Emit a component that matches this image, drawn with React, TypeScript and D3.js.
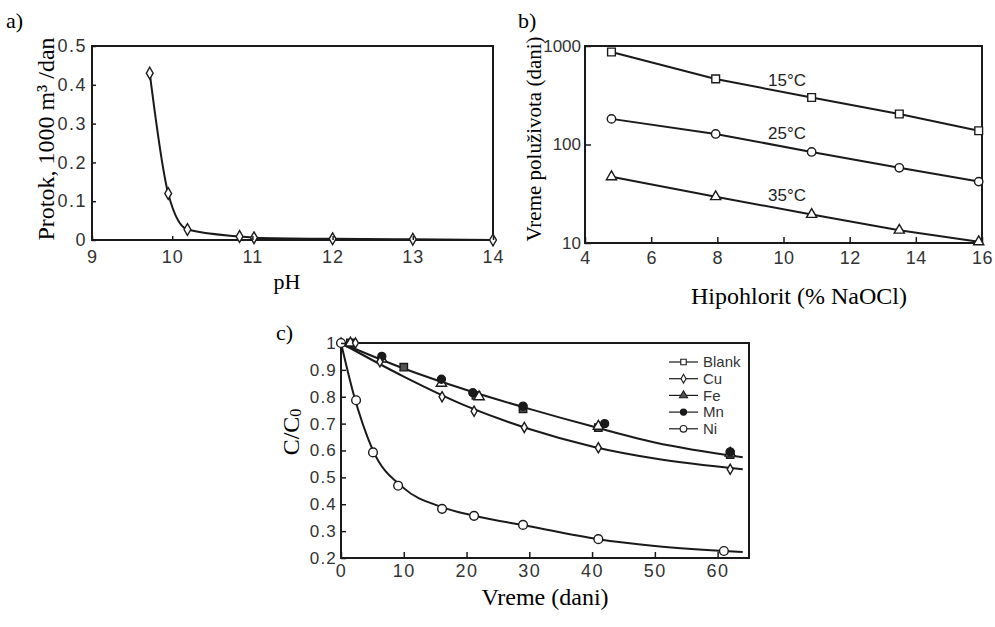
import React, { useEffect, useRef } from 'react';
import * as d3 from 'd3';

// panel a: flow vs pH
const phValues = [9.72, 9.95, 10.19, 10.84, 11.02, 12, 13, 14];
const flowValues = [0.43, 0.12, 0.027, 0.009, 0.006, 0.003, 0.002, 0];
const aXTicks = [9, 10, 11, 12, 13, 14];
const aYTicks = [0, 0.1, 0.2, 0.3, 0.4, 0.5];

// panel b: half-life vs hypochlorite
const naocl = [4.8, 7.95, 10.85, 13.5, 15.9];
const halfLife15 = [870, 463, 300, 204, 138];
const halfLife25 = [182, 128, 84, 58, 42];
const halfLife35 = [47, 29.5, 19.5, 13.5, 10.3];
const bXTicks = [4, 6, 8, 10, 12, 14, 16];
const bYTicks = [10, 100, 1000];
const tempLabels = ['15°C', '25°C', '35°C'];

// panel c: C/C0 vs time
const blankT = [1.5, 10, 21.5, 29, 41, 62];
const blankC = [1.0, 0.91, 0.805, 0.755, 0.685, 0.585];
const cuT = [0, 2.3, 6.2, 16.1, 21.2, 29.2, 41, 62];
const cuC = [1.0, 1.0, 0.93, 0.8, 0.746, 0.686, 0.61, 0.53];
const feT = [1.5, 6.5, 16, 22, 41, 62];
const feC = [1.0, 0.94, 0.85, 0.8, 0.69, 0.59];
const mnT = [6.5, 16, 21, 29, 42, 62];
const mnC = [0.95, 0.865, 0.815, 0.765, 0.7, 0.595];
const niT = [0, 2.4, 5.1, 9.1, 16.1, 21.2, 29, 41, 61];
const niC = [1.0, 0.787, 0.593, 0.469, 0.383, 0.357, 0.323, 0.27, 0.226];
// fitted curves
const fitTopT = [0, 10, 20, 30, 40, 50, 64];
const fitTopC = [1.0, 0.905, 0.825, 0.755, 0.69, 0.63, 0.575];
const fitCuT = [0, 10, 20, 30, 40, 50, 64];
const fitCuC = [1.0, 0.875, 0.765, 0.68, 0.615, 0.57, 0.53];
const fitNiT = [0, 2, 5, 10, 16, 21, 30, 41, 50, 64];
const fitNiC = [1.0, 0.81, 0.605, 0.46, 0.39, 0.358, 0.318, 0.27, 0.245, 0.222];
const cXTicks = [0, 10, 20, 30, 40, 50, 60];
const cYTicks = [0.2, 0.3, 0.4, 0.5, 0.6, 0.7, 0.8, 0.9, 1];
const legendNames = ['Blank', 'Cu', 'Fe', 'Mn', 'Ni'];

const INK = '#1a1a1a';
const TICK_FONT = '"Liberation Sans", Arial, sans-serif';
const SERIF = '"Liberation Serif", "Times New Roman", serif';

const App = () => {
  const ref = useRef<SVGSVGElement>(null);

  useEffect(() => {
    if (!ref.current) return;
    const svg = d3.select(ref.current);
    svg.selectAll('*').remove();

    const frame = (x0: number, x1: number, y0: number, y1: number) =>
      svg.append('rect')
        .attr('x', x0).attr('y', y0)
        .attr('width', x1 - x0).attr('height', y1 - y0)
        .attr('fill', 'none').attr('stroke', INK).attr('stroke-width', 2);

    const styleAxis = (g: any, size: number, spacing = 0) => {
      g.select('.domain').remove();
      g.selectAll('line').attr('stroke', INK).attr('stroke-width', 1.5);
      g.selectAll('text')
        .style('font-family', TICK_FONT)
        .style('font-size', `${size}px`)
        .style('letter-spacing', `${spacing}px`)
        .attr('fill', '#333');
    };

    const marker = (type: any, size: number, x: number, y: number, fill: string) =>
      svg.append('path')
        .attr('d', d3.symbol().type(type).size(size)())
        .attr('transform', `translate(${x},${y})`)
        .attr('fill', fill)
        .attr('stroke', INK)
        .attr('stroke-width', 1.4);

    // ---------- panel a ----------
    const ax = d3.scaleLinear().domain([9, 14]).range([92, 493]);
    const ay = d3.scaleLinear().domain([0, 0.5]).range([240, 46]);
    frame(92, 493, 46, 240);
    const aLine = d3.line<number>()
      .x((d, i) => ax(phValues[i]))
      .y(d => ay(d))
      .curve(d3.curveMonotoneX);
    svg.append('path').datum(flowValues)
      .attr('d', aLine).attr('fill', 'none')
      .attr('stroke', INK).attr('stroke-width', 2);
    flowValues.forEach((v, i) => marker(d3.symbolDiamond, 40, ax(phValues[i]), ay(v), '#fff'));
    svg.append('g').attr('transform', 'translate(0,240)')
      .call(d3.axisBottom(ax).tickValues(aXTicks).tickSize(-4).tickPadding(10).tickFormat(d3.format('d')))
      .call((g: any) => styleAxis(g, 18, 1));
    svg.append('g').attr('transform', 'translate(92,0)')
      .call(d3.axisLeft(ay).tickValues(aYTicks).tickSize(-4).tickPadding(5)
        .tickFormat((d: any) => (d === 0 ? '0' : d3.format('.1f')(d))))
      .call((g: any) => styleAxis(g, 18, 1.5));
    svg.append('text').attr('x', 6).attr('y', 28).text('a)')
      .style('font-family', SERIF).style('font-size', '22px');
    svg.append('text').attr('x', 287).attr('y', 289).attr('text-anchor', 'middle')
      .text('pH').style('font-family', SERIF).style('font-size', '22px');
    svg.append('text')
      .attr('transform', 'translate(54,139) rotate(-90)')
      .attr('text-anchor', 'middle')
      .text('Protok, 1000 m³ /dan')
      .style('font-family', SERIF).style('font-size', '24px');

    // ---------- panel b ----------
    const bx = d3.scaleLinear().domain([4, 16]).range([585, 982]);
    const by = d3.scaleLog().domain([10, 1000]).range([243, 46]);
    frame(585, 982, 46, 243);
    const bSeries = [halfLife15, halfLife25, halfLife35];
    const bSymbols = [d3.symbolSquare, d3.symbolCircle, d3.symbolTriangle];
    const bSizes = [60, 55, 45];
    const bLine = d3.line<number>().x((d, i) => bx(naocl[i])).y(d => by(d));
    bSeries.forEach((s, k) => {
      svg.append('path').datum(s)
        .attr('d', bLine).attr('fill', 'none')
        .attr('stroke', INK).attr('stroke-width', 2);
      s.forEach((v, i) => marker(bSymbols[k], bSizes[k], bx(naocl[i]), by(v), '#fff'));
    });
    svg.append('g').attr('transform', 'translate(0,243)')
      .call(d3.axisBottom(bx).tickValues(bXTicks).tickSize(-6).tickPadding(8).tickFormat(d3.format('d')))
      .call((g: any) => styleAxis(g, 18, 0.5));
    svg.append('g').attr('transform', 'translate(585,0)')
      .call(d3.axisLeft(by).tickValues(bYTicks).tickSize(-6).tickPadding(4).tickFormat(d3.format('d')))
      .call((g: any) => styleAxis(g, 17));
    const labelYs = [80, 133, 195];
    tempLabels.forEach((t, k) => {
      svg.append('text').attr('x', 787).attr('y', labelYs[k]).attr('text-anchor', 'middle')
        .attr('dy', '0.35em').text(t)
        .style('font-family', TICK_FONT).style('font-size', '17px').attr('fill', '#222');
    });
    svg.append('text').attr('x', 518).attr('y', 28).text('b)')
      .style('font-family', SERIF).style('font-size', '22px');
    svg.append('text').attr('x', 799).attr('y', 304).attr('text-anchor', 'middle')
      .text('Hipohlorit (% NaOCl)')
      .style('font-family', SERIF).style('font-size', '24px');
    svg.append('text')
      .attr('transform', 'translate(541,139) rotate(-90)')
      .attr('text-anchor', 'middle')
      .text('Vreme poluživota (dani)')
      .style('font-family', SERIF).style('font-size', '21px');

    // ---------- panel c ----------
    const cx = d3.scaleLinear().domain([0, 65]).range([341, 749]);
    const cy = d3.scaleLinear().domain([0.2, 1]).range([558, 343]);
    frame(341, 749, 343, 558);
    const fits: [number[], number[]][] = [[fitTopT, fitTopC], [fitCuT, fitCuC], [fitNiT, fitNiC]];
    fits.forEach(([ts, cs]) => {
      const ln = d3.line<number>().x((d, i) => cx(ts[i])).y(d => cy(d)).curve(d3.curveMonotoneX);
      svg.append('path').datum(cs)
        .attr('d', ln).attr('fill', 'none')
        .attr('stroke', INK).attr('stroke-width', 2);
    });
    const cSeries: [number[], number[], any, number, string][] = [
      [blankT, blankC, d3.symbolSquare, 55, '#555'],
      [feT, feC, d3.symbolTriangle, 45, '#fff'],
      [mnT, mnC, d3.symbolCircle, 50, INK],
      [cuT, cuC, d3.symbolDiamond, 30, '#fff'],
      [niT, niC, d3.symbolCircle, 60, '#fff'],
    ];
    cSeries.forEach(([ts, cs, sym, size, fill]) => {
      cs.forEach((v, i) => marker(sym, size, cx(ts[i]), cy(v), fill));
    });
    svg.append('g').attr('transform', 'translate(0,558)')
      .call(d3.axisBottom(cx).tickValues(cXTicks).tickSize(-6).tickPadding(6).tickFormat(d3.format('d')))
      .call((g: any) => styleAxis(g, 18, 1.5));
    svg.append('g').attr('transform', 'translate(341,0)')
      .call(d3.axisLeft(cy).tickValues(cYTicks).tickSize(-5).tickPadding(4)
        .tickFormat((d: any) => (d === 1 ? '1' : d3.format('.1f')(d))))
      .call((g: any) => styleAxis(g, 17, 1.2));

    // legend
    const legSym = [d3.symbolSquare, d3.symbolDiamond, d3.symbolTriangle, d3.symbolCircle, d3.symbolCircle];
    const legSize = [30, 22, 28, 30, 35];
    const legFill = ['#fff', '#fff', '#555', INK, '#fff'];
    legendNames.forEach((n, k) => {
      const y = 362 + k * 16.7;
      svg.append('line').attr('x1', 669).attr('x2', 698).attr('y1', y).attr('y2', y)
        .attr('stroke', INK).attr('stroke-width', 1.2);
      marker(legSym[k], legSize[k], 683.5, y, legFill[k]).attr('stroke-width', 1.1);
      svg.append('text').attr('x', 703).attr('y', y).attr('dy', '0.35em').text(n)
        .style('font-family', TICK_FONT).style('font-size', '15px').attr('fill', '#333');
    });

    svg.append('text').attr('x', 276).attr('y', 340).text('c)')
      .style('font-family', SERIF).style('font-size', '22px');
    svg.append('text').attr('x', 545).attr('y', 605).attr('text-anchor', 'middle')
      .text('Vreme (dani)')
      .style('font-family', SERIF).style('font-size', '24px');
    const cl = svg.append('text')
      .attr('transform', 'translate(299,432) rotate(-90)')
      .attr('text-anchor', 'middle')
      .style('font-family', SERIF).style('font-size', '24px');
    cl.append('tspan').text('C/C');
    cl.append('tspan').text('0').style('font-size', '16px').attr('dy', 2);
  }, []);

  return (
    <svg ref={ref} width={995} height={627}
      style={{ position: 'absolute', left: 0, top: 0, background: '#fff' }} />
  );
};

export default App;
